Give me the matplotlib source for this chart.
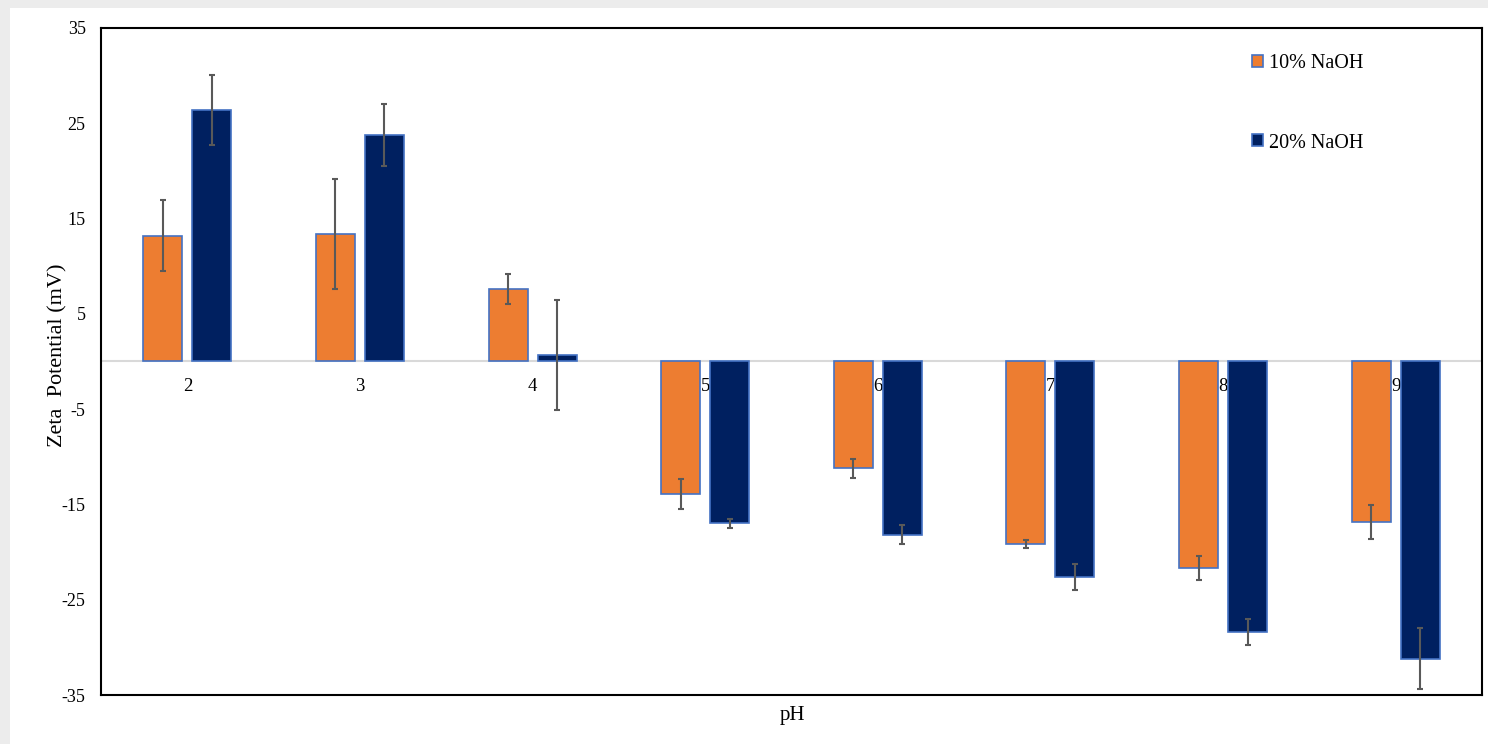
import numpy as np
import matplotlib.pyplot as plt
from matplotlib.patches import Rectangle

# data
ph = ['2', '3', '4', '5', '6', '7', '8', '9']
naoh10 = [13.2, 13.4, 7.6, -13.9, -11.2, -19.15, -21.7, -16.85]
naoh10_err = [3.7, 5.8, 1.55, 1.55, 1.0, 0.45, 1.25, 1.8]
naoh20 = [26.4, 23.8, 0.7, -17.0, -18.2, -22.6, -28.4, -31.2]
naoh20_err = [3.65, 3.25, 5.8, 0.45, 1.0, 1.4, 1.35, 3.2]

plt.rcParams['font.family'] = ['Liberation Serif', 'DejaVu Serif']
plt.rcParams['axes.unicode_minus'] = False

orange = '#ED7D31'
navy = '#002060'
edge = '#4472C4'
errc = '#595959'

fig = plt.figure(figsize=(14.88, 7.44), dpi=100, facecolor='#ececec')
fig.patches.append(Rectangle((10 / 1488, 0), 1, 1 - 8 / 744, transform=fig.transFigure,
                             facecolor='white', edgecolor='none', zorder=-10))
ax = fig.add_axes([101 / 1488, 1 - 695 / 744, (1482 - 101) / 1488, (695 - 28) / 744])

x = np.arange(len(ph))
w = 0.226
off = 0.142

ax.axhline(0, color='#d9d9d9', lw=1.5, zorder=1)
for i, lab in enumerate(ph):
    ax.text(x[i], -1.7, lab, ha='center', va='top', fontsize=13.5, zorder=2)

ax.bar(x - off, naoh10, w, color=orange, edgecolor=edge, linewidth=1.2, label='10% NaOH', zorder=3)
ax.bar(x + off, naoh20, w, color=navy, edgecolor=edge, linewidth=1.2, label='20% NaOH', zorder=3)
ax.errorbar(x - off, naoh10, yerr=naoh10_err, fmt='none', ecolor=errc, elinewidth=1.5,
            capsize=2.5, capthick=1.5, zorder=4)
ax.errorbar(x + off, naoh20, yerr=naoh20_err, fmt='none', ecolor=errc, elinewidth=1.5,
            capsize=2.5, capthick=1.5, zorder=4)

ax.set_xlim(-0.5, len(ph) - 0.5)
ax.set_ylim(-35, 35)
ax.set_yticks(np.arange(-35, 36, 10))
ax.set_xticks([])
ax.tick_params(axis='y', length=0, pad=11, labelsize=13)
for s in ax.spines.values():
    s.set_linewidth(1.5)
    s.set_color('black')

ax.set_ylabel('Zeta  Potential (mV)', fontsize=16)
ax.yaxis.set_label_coords(-0.024, 0.51)
ax.set_xlabel('pH', fontsize=15)
ax.xaxis.set_label_coords(0.501, -0.016)

leg = ax.legend(loc='upper left', bbox_to_anchor=(0.82, 0.988), frameon=False, fontsize=14.5,
                labelspacing=3.0, handlelength=0.55, handleheight=0.55, handletextpad=0.3)

plt.savefig('out.png', dpi=100, facecolor=fig.get_facecolor())
